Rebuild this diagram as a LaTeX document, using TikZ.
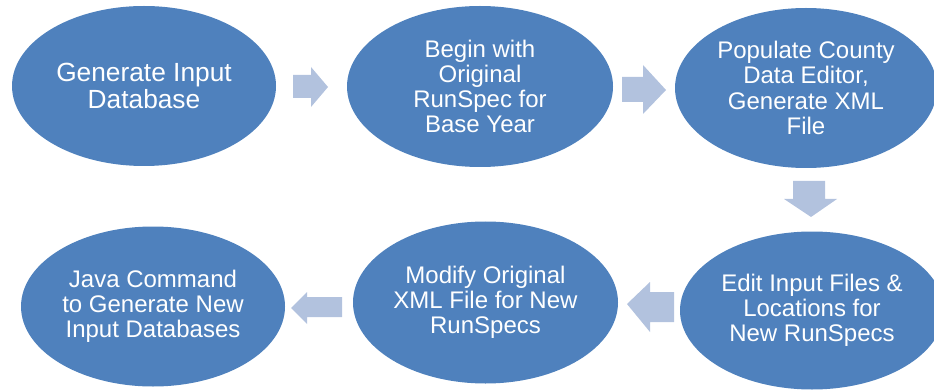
\documentclass[tikz,border=0pt]{standalone}
\usepackage{fontspec}
\setmainfont{Liberation Sans}
\usetikzlibrary{shapes.geometric}
\definecolor{blobblue}{RGB}{79,129,189}
\definecolor{arrowblue}{RGB}{178,194,222}
\begin{document}
\begin{tikzpicture}[x=1pt,y=-1pt,
  blob/.style={ellipse, fill=blobblue, draw=none, inner sep=0pt, text=white,
    align=center, font=\fontsize{24}{25.2}\selectfont},
  bigtext/.style={font=\fontsize{26.3}{27}\selectfont},
  blockarrow/.style={fill=arrowblue, draw=none}]
\useasboundingbox (0,0) rectangle (934,390);
\node[blob, bigtext, minimum width=264pt, minimum height=160pt] (e1) at (144,86) {Generate Input\\Database};
\node[blob, minimum width=266pt, minimum height=161pt] (e2) at (480,86.5) {Begin with\\Original\\RunSpec for\\Base Year};
\node[blob, minimum width=262pt, minimum height=160pt] (e3) at (806,88) {Populate County\\Data Editor,\\Generate XML\\File};
\node[blob, minimum width=264pt, minimum height=158pt] (e4) at (812,310.5) {Edit Input Files \&\\Locations for\\New RunSpecs};
\node[blob, minimum width=265pt, minimum height=162pt] (e5) at (485.5,302.5) {Modify Original\\XML File for New\\RunSpecs};
\node[blob, minimum width=264pt, minimum height=160pt] (e6) at (153,306.5) {Java Command\\to Generate New\\Input Databases};
% block arrows
\fill[blockarrow] (293,75) -- (311,75) -- (311,67) -- (328,87) -- (311,107) -- (311,98) -- (293,98) -- cycle;
\fill[blockarrow] (622,77) -- (643,77) -- (643,65) -- (666,90) -- (643,114) -- (643,102) -- (622,102) -- cycle;
\fill[blockarrow] (793,181) -- (825,181) -- (825,199) -- (837,199) -- (811,217) -- (784,199) -- (793,199) -- cycle;
\fill[blockarrow] (674,292) -- (650,292) -- (650,282) -- (627,304) -- (650,332) -- (650,322) -- (674,322) -- cycle;
\fill[blockarrow] (342,297) -- (307,297) -- (307,292) -- (291,308) -- (307,324) -- (307,317) -- (342,317) -- cycle;
\end{tikzpicture}
\end{document}
